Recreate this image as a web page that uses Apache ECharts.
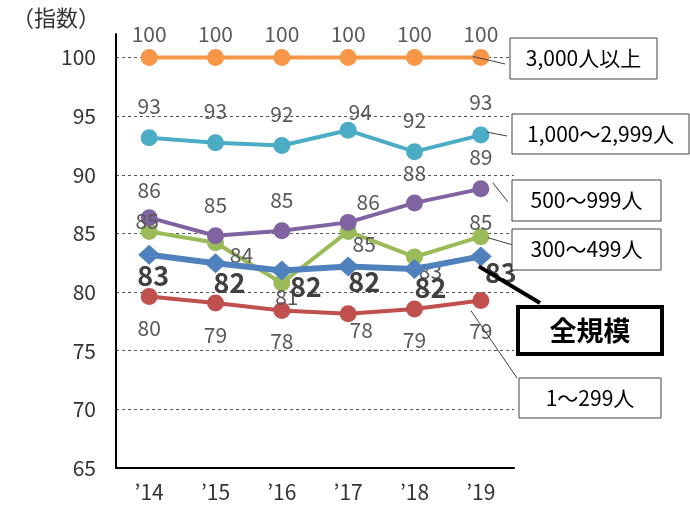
<!DOCTYPE html>
<html>
<head>
<meta charset="utf-8">
<script src="https://cdn.jsdelivr.net/npm/echarts@6/dist/echarts.min.js"></script>
<style>
html,body{margin:0;padding:0;background:#fff;}
#chart{width:690px;height:512px;}
</style>
</head>
<body>
<div id="chart"></div>
<script>
/* 規模別 指数の推移 */

const years=["’14","’15","’16","’17","’18","’19"];

const s3000=[100,100,100,100,100,100];
const s1000=[93.15,92.72,92.49,93.79,91.97,93.38];
const s500=[86.34,84.80,85.23,85.94,87.60,88.80];
const s300=[85.17,84.20,80.77,85.17,82.99,84.72];
const s1=[79.63,79.06,78.43,78.15,78.55,79.28];
const sAll=[83.18,82.45,81.84,82.18,81.96,83.04];

const names=["3,000人以上","1,000～2,999人","500～999人","300～499人","1～299人","全規模"];

const FONT="'Noto Sans CJK JP','Noto Sans',sans-serif";

const chart=echarts.init(document.getElementById("chart"));

function pts(values,offsets){

    return values.map((v,i)=>({

        value:v,

        label:{offset:offsets[i]}

    }));

}

function lineSeries(name,values,color,offsets){

    return {

        name,
        type:"line",
        data:pts(values,offsets),
        symbol:"circle",
        symbolSize:17,
        lineStyle:{color,width:4},
        itemStyle:{color},
        label:{
            show:true,
            position:"inside",
            formatter:p=>Math.round(p.value),
            color:"#595959",
            fontFamily:FONT,
            fontSize:21
        },
        emphasis:{disabled:true},
        z:2

    };

}

const up=d=>[[0,d],[0,d],[0,d],[0,d],[0,d],[0,d]];

const option={

    animation:false,

    grid:{
        left:116,
        right:176,
        top:34,
        bottom:44
    },

    xAxis:{

        type:"category",
        data:years,
        boundaryGap:true,
        axisLine:{lineStyle:{color:"#000",width:2}},
        axisTick:{show:false},
        axisLabel:{
            color:"#333",
            fontFamily:FONT,
            fontSize:21,
            margin:14
        }

    },

    yAxis:{

        type:"value",
        min:65,
        max:102,
        interval:5,
        axisLine:{show:true,lineStyle:{color:"#000",width:2}},
        axisTick:{show:false},
        axisLabel:{
            showMaxLabel:false,
            color:"#333",
            fontFamily:FONT,
            fontSize:21,
            margin:20
        },
        splitLine:{
            showMaxLine:false,
            lineStyle:{color:"#555",type:[3,3],width:1}
        }

    },

    series:[

        lineSeries(names[4],s1,"#C0504D",[[0,32],[0,32],[0,31],[13,16],[0,31],[0,31]]),

        lineSeries(names[3],s300,"#9BBB59",[[-2,-10],[26,12],[5,14],[16,13],[16,14],[0,-15]]),

        lineSeries(names[2],s500,"#8064A2",[[0,-28],[0,-31],[0,-31],[20,-20],[0,-30],[0,-32]]),

        lineSeries(names[1],s1000,"#4BACC6",[[0,-32],[0,-32],[0,-32],[12,-18],[0,-32],[0,-33]]),

        lineSeries(names[0],s3000,"#F79646",up(-23)),

        {
            name:names[5],
            type:"line",
            data:pts(sAll,[[4,21],[14,19],[24,16],[16,15],[16,19],[20,16]]),
            symbol:"diamond",
            symbolSize:[22,20],
            lineStyle:{color:"#4F81BD",width:6},
            itemStyle:{color:"#4F81BD"},
            label:{
                show:true,
                position:"inside",
                formatter:p=>Math.round(p.value),
                color:"#404040",
                fontFamily:FONT,
                fontSize:27,
                fontWeight:"bold"
            },
            emphasis:{disabled:true},
            z:3
        }

    ]

};

chart.setOption(option);

/* 凡例ボックスと引き出し線 */

const callouts=[
    {series:4,text:names[0],box:[510,38,147,41],from:[-8,-1],to:[505,64]},
    {series:3,text:names[1],box:[512,114,177,40],from:[6,-3],to:[507,136]},
    {series:2,text:names[2],box:[512,180,149,41],from:[12,-6],to:[508,202]},
    {series:1,text:names[3],box:[512,229,149,41],from:[7,1],to:[513,245]},
    {series:5,text:"全規模",box:[518,307,144,47],from:[-2,10],to:[540,303],bold:true},
    {series:0,text:names[4],box:[519,378,142,40],from:[-10,10],to:[517,378]}
];

const seriesData=[s1,s300,s500,s1000,s3000,sAll];

const graphic=[];

graphic.push({
    type:"text",
    left:12,
    top:7,
    style:{
        text:"（指数）",
        fill:"#333",
        font:"22px "+FONT
    }
});

callouts.forEach(c=>{

    const vals=seriesData[c.series];

    const p=chart.convertToPixel({seriesIndex:c.series},[5,vals[5]]);

    graphic.push({
        type:"line",
        shape:{x1:p[0]+c.from[0],y1:p[1]+c.from[1],x2:c.to[0],y2:c.to[1]},
        style:{stroke:c.bold?"#000":"#404040",lineWidth:c.bold?4:1},
        z:10
    });

    graphic.push({
        type:"rect",
        shape:{x:c.box[0],y:c.box[1],width:c.box[2],height:c.box[3]},
        style:{fill:"#fff",stroke:c.bold?"#000":"#404040",lineWidth:c.bold?4:1},
        z:11
    });

    graphic.push({
        type:"text",
        x:c.box[0]+c.box[2]/2,
        y:c.box[1]+c.box[3]/2,
        style:{
            text:c.text,
            fill:"#000",
            align:"center",
            verticalAlign:"middle",
            font:(c.bold?"bold 27px ":"21px ")+FONT
        },
        z:12
    });

});

chart.setOption({graphic});

</script>
</body>
</html>
